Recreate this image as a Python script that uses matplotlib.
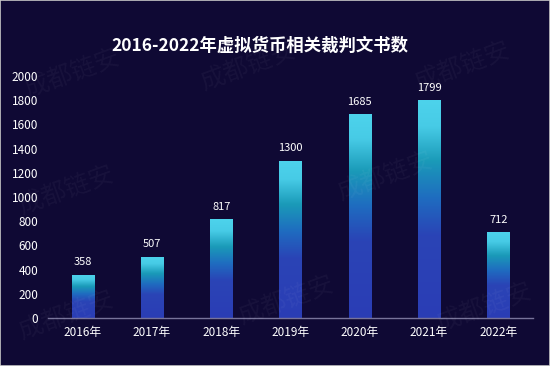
import matplotlib
matplotlib.use("Agg")
import matplotlib.pyplot as plt
import numpy as np
from matplotlib.colors import LinearSegmentedColormap

plt.rcParams['font.family'] = ['Noto Sans CJK SC', 'DejaVu Sans']

categories = ['2016年', '2017年', '2018年', '2019年', '2020年', '2021年', '2022年']
values = [358, 507, 817, 1300, 1685, 1799, 712]
yticks = [0, 200, 400, 600, 800, 1000, 1200, 1400, 1600, 1800, 2000]
title = '2016-2022年虚拟货币相关裁判文书数'

bg = '#0f0934'
fig = plt.figure(figsize=(5.5, 3.66), dpi=100, facecolor=bg)
fig.patches.append(plt.Rectangle((0, 0), 1, 1, transform=fig.transFigure,
                                 fill=False, edgecolor='#c8c8c8', linewidth=1.2, zorder=10))
ax = fig.add_axes([48/550, 1-318/366, 485/550, 242/366])
ax.set_facecolor(bg)

# watermark
wm_pos = [(0.13, 0.80), (0.45, 0.82), (0.84, 0.82), (0.12, 0.48), (0.70, 0.52),
          (0.12, 0.14), (0.52, 0.18), (0.88, 0.16)]
for (wx, wy) in wm_pos:
    fig.text(wx, wy, '成都链安', rotation=20, fontsize=18, color='white', alpha=0.04,
             ha='center', va='center', zorder=0)

cmap = LinearSegmentedColormap.from_list('g', [
    (0.0, '#4dd3ec'), (0.12, '#47cbe6'), (0.28, '#1a9ab8'),
    (0.45, '#1f6cc0'), (0.62, '#2a44b6'), (1.0, '#2b3db5')])

x = np.arange(len(categories))
bw = 0.32
bars = ax.bar(x, values, width=bw, color='none', zorder=2)
grad = np.linspace(0, 1, 256).reshape(-1, 1)
for rect, v in zip(bars, values):
    x0 = rect.get_x()
    im = ax.imshow(grad, cmap=cmap, aspect='auto', extent=(x0, x0 + bw, 0, v),
                   origin='upper', zorder=2)
    im.set_clip_path(rect)
    ax.text(rect.get_x() + bw/2, v + 60, str(v), ha='center', va='bottom',
            color='white', fontsize=8, zorder=3)

ax.set_xlim(-0.5, len(categories) - 0.5)
ax.set_ylim(0, 2000)
ax.set_yticks(yticks)
ax.set_xticks(x)
ax.set_xticklabels(categories)
ax.tick_params(axis='both', length=0, colors='white', labelsize=8.5)
ax.tick_params(axis='y', pad=7)
ax.tick_params(axis='x', pad=6)
for s in ['top', 'right', 'left']:
    ax.spines[s].set_visible(False)
ax.spines['bottom'].set_color('#77739a')
ax.spines['bottom'].set_linewidth(1)

fig.text(260/550, 1 - 46/366, title, ha='center', va='center', color='white',
         fontsize=12.5, fontweight='bold')

fig.savefig('out.png', dpi=100, facecolor=bg)
